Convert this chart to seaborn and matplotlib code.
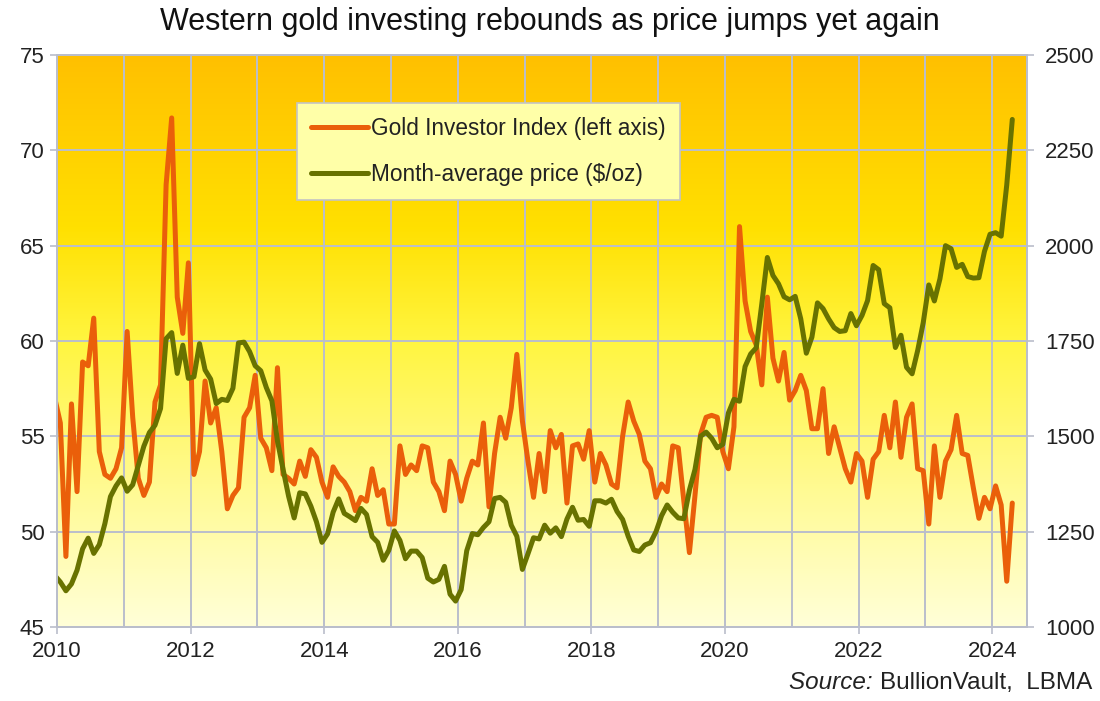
import numpy as np
import pandas as pd
import matplotlib
matplotlib.use("Agg")
import matplotlib.pyplot as plt
from matplotlib.colors import LinearSegmentedColormap
from matplotlib.ticker import FixedLocator, MultipleLocator
import seaborn as sns

# Monthly readings, Dec 2009 .. Apr 2024 (Dec 2009 only enters from the left edge)
months = pd.date_range("2009-12-01", "2024-04-01", freq="MS")

investor_index = [
    57.0,
    55.7, 48.7, 56.7, 52.1, 58.9, 58.7, 61.2, 54.2, 53.0, 52.8, 53.3, 54.4,   # 2010
    60.5, 56.0, 52.8, 51.9, 52.6, 56.8, 57.7, 68.2, 71.7, 62.3, 60.4, 64.1,   # 2011
    53.0, 54.2, 57.9, 55.7, 56.5, 54.2, 51.2, 51.9, 52.3, 56.0, 56.5, 58.2,   # 2012
    54.9, 54.4, 53.2, 58.6, 53.0, 52.8, 52.5, 53.7, 52.9, 54.3, 53.9, 52.6,   # 2013
    51.8, 53.4, 52.9, 52.6, 52.1, 51.1, 51.8, 51.6, 53.3, 51.9, 52.2, 50.4,   # 2014
    50.4, 54.5, 53.0, 53.5, 53.2, 54.5, 54.4, 52.6, 52.1, 51.1, 53.7, 53.0,   # 2015
    51.6, 52.8, 53.7, 53.5, 55.7, 51.3, 54.1, 56.0, 54.9, 56.5, 59.3, 55.8,   # 2016
    53.7, 51.8, 54.1, 52.1, 55.3, 54.4, 55.1, 51.5, 54.5, 54.6, 53.8, 55.3,   # 2017
    52.6, 54.1, 53.5, 52.5, 52.3, 55.0, 56.8, 55.8, 55.1, 53.7, 53.3, 51.8,   # 2018
    52.5, 52.1, 54.5, 54.4, 51.6, 48.9, 51.9, 55.1, 56.0, 56.1, 56.0, 54.2,   # 2019
    53.3, 55.5, 66.0, 62.1, 60.5, 59.8, 57.7, 62.3, 59.1, 57.9, 59.4, 56.9,   # 2020
    57.4, 58.2, 57.4, 55.4, 55.4, 57.5, 54.1, 55.5, 54.4, 53.3, 52.6, 54.1,   # 2021
    53.7, 51.8, 53.8, 54.2, 56.1, 54.4, 56.8, 53.9, 56.0, 56.7, 53.3, 53.2,   # 2022
    50.4, 54.5, 51.8, 53.7, 54.3, 56.1, 54.1, 54.0, 52.3, 50.7, 51.8, 51.2,   # 2023
    52.4, 51.4, 47.4, 51.5,                                                   # 2024
]

gold_price = [
    1135,
    1118, 1095, 1113, 1149, 1205, 1233, 1193, 1216, 1271, 1342, 1370, 1391,   # 2010
    1356, 1373, 1424, 1474, 1510, 1529, 1573, 1756, 1772, 1665, 1739, 1652,   # 2011
    1656, 1743, 1674, 1650, 1586, 1597, 1594, 1626, 1745, 1747, 1722, 1685,   # 2012
    1672, 1628, 1593, 1488, 1414, 1343, 1286, 1352, 1349, 1317, 1276, 1222,   # 2013
    1244, 1301, 1336, 1298, 1289, 1279, 1311, 1295, 1237, 1222, 1175, 1201,   # 2014
    1252, 1227, 1179, 1199, 1199, 1182, 1128, 1118, 1125, 1159, 1086, 1068,   # 2015
    1098, 1200, 1245, 1242, 1261, 1276, 1337, 1340, 1327, 1267, 1238, 1151,   # 2016
    1192, 1234, 1231, 1267, 1246, 1260, 1237, 1283, 1314, 1280, 1282, 1264,   # 2017
    1331, 1331, 1325, 1335, 1303, 1282, 1238, 1202, 1198, 1215, 1221, 1250,   # 2018
    1292, 1320, 1301, 1286, 1284, 1359, 1413, 1500, 1511, 1495, 1470, 1479,   # 2019
    1561, 1597, 1592, 1683, 1716, 1732, 1847, 1969, 1922, 1900, 1866, 1858,   # 2020
    1867, 1808, 1718, 1760, 1850, 1835, 1808, 1785, 1775, 1777, 1822, 1790,   # 2021
    1817, 1856, 1948, 1937, 1848, 1837, 1733, 1765, 1681, 1664, 1725, 1798,   # 2022
    1897, 1855, 1913, 2000, 1992, 1943, 1951, 1919, 1915, 1916, 1985, 2030,   # 2023
    2034, 2025, 2159, 2331,                                                   # 2024
]

series_names = ["Gold Investor Index (left axis)", r"Month-average price (\$/oz)"]
left_ticks = [45, 50, 55, 60, 65, 70, 75]
right_ticks = [1000, 1250, 1500, 1750, 2000, 2250, 2500]
year_labels = [2010, 2012, 2014, 2016, 2018, 2020, 2022, 2024]

orange = "#EA5F0A"
olive = "#687200"
grid_col = "#BABECB"

df = pd.DataFrame({"month": months, "index": investor_index, "price": gold_price})
# points sit a little past the start of each month, as in the source chart
df["x"] = df["month"].dt.year + (df["month"].dt.month - 1 + 0.6) / 12

sns.set_style("white")
plt.rcParams["font.family"] = ["Liberation Sans", "DejaVu Sans"]

fig = plt.figure(figsize=(11, 7.01), dpi=100)
ax = fig.add_axes([57 / 1100, 74 / 701, 970 / 1100, 572 / 701])
x_end = 2024.52

# gradient plot-area fill
bg = LinearSegmentedColormap.from_list(
    "gold_bg", [(0, "#FFC000"), (0.3, "#FFE000"), (0.5, "#FFF540"), (0.75, "#FFFA90"), (1, "#FFFFD8")])
ax.imshow(np.linspace(0, 1, 256).reshape(-1, 1), extent=[2010, x_end, 45, 75],
          aspect="auto", cmap=bg, origin="upper", zorder=0)

sns.lineplot(data=df, x="x", y="index", ax=ax, color=orange, lw=3.6, zorder=2)
ax.set_xlim(2010, x_end)
ax.set_ylim(45, 75)
ax.yaxis.set_major_locator(FixedLocator(left_ticks))
ax.xaxis.set_major_locator(FixedLocator(year_labels))
ax.xaxis.set_minor_locator(MultipleLocator(1))
ax.set_xticklabels([str(y) for y in year_labels])
ax.grid(True, which="both", color=grid_col, lw=1.4)
ax.set_axisbelow(True)
ax.set_xlabel("")
ax.set_ylabel("")

ax2 = ax.twinx()
sns.lineplot(data=df, x="x", y="price", ax=ax2, color=olive, lw=3.6)
ax2.set_ylim(1000, 2500)
ax2.yaxis.set_major_locator(FixedLocator(right_ticks))
ax2.set_ylabel("")
ax2.set_xlim(2010, x_end)

for a in (ax, ax2):
    for s in a.spines.values():
        s.set_color(grid_col)
        s.set_linewidth(1.4)
    a.tick_params(length=5, width=1.2, color=grid_col, labelsize=16, labelcolor="#222222", pad=4)
ax.tick_params(axis="x", which="minor", length=0)
ax.tick_params(left=True, bottom=True)
ax.tick_params(axis="x", pad=5)
ax2.tick_params(right=True, pad=8)

handles = [plt.Line2D([], [], color=orange, lw=3.6), plt.Line2D([], [], color=olive, lw=3.6)]
leg = ax2.legend(handles, series_names, loc="upper left", bbox_to_anchor=(240 / 970, 524 / 572),
                 fontsize=16.3, frameon=True, fancybox=False, framealpha=1, handlelength=2.5,
                 handletextpad=0.15, labelspacing=1.02, borderpad=0.62, borderaxespad=0)
leg.get_frame().set_facecolor("#FFFFA8")
leg.get_frame().set_edgecolor("#C4C4C4")
leg.get_frame().set_linewidth(1.2)
for t in leg.get_texts():
    t.set_color("#222222")

fig.text(0.5, 1 - 22 / 701, "Western gold investing rebounds as price jumps yet again",
         ha="center", va="center", fontsize=22, color="#111111")

src = fig.text(1092 / 1100, 1 - 683 / 701, "BullionVault,  LBMA", ha="right", va="center",
               fontsize=17.5, color="#222222")
ax.annotate("Source: ", xy=(0, 0), xycoords=src, ha="right", va="bottom",
            fontsize=17.5, style="italic", color="#222222", annotation_clip=False)

fig.savefig("out.png", dpi=100, facecolor="white")
